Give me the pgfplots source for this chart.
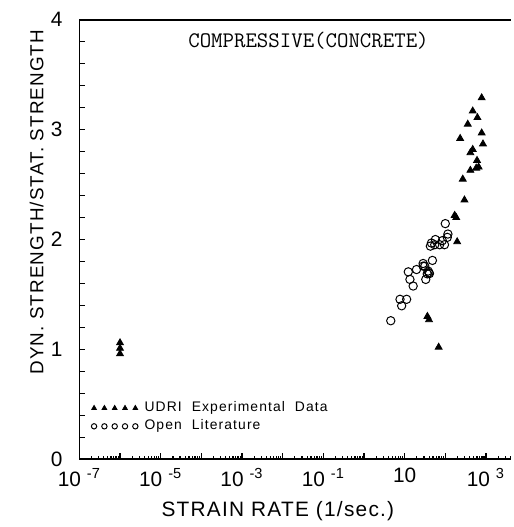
\documentclass[border=0pt]{standalone}
\usepackage{fontspec}
\setmainfont{Liberation Sans}
\newfontfamily\labfont[LetterSpace=6]{Liberation Sans}
\newfontfamily\legfont[LetterSpace=8,WordSpace=2]{Liberation Sans}
\usepackage{pgfplots}
\usepackage{pgfplotstable}
\pgfplotsset{compat=1.18}
\newcommand{\ex}[1]{10\hspace{3pt}\textsuperscript{#1}}

\pgfplotstableread{
x y
1e-6 1.06
1e-6 1.01
1e-6 0.96
785 3.29
473 3.17
617 3.11
357 3.05
785 2.97
232 2.92
845 2.87
473 2.82
414 2.79
603 2.72
661 2.66
575 2.65
414 2.63
269 2.55
296 2.36
170 2.22
186 2.20
196 1.98
36.3 1.30
39.8 1.27
68.7 1.02
}\udri

\pgfplotstableread{
x y
100 2.145
116 2.05
112 2.02
84.5 1.99
57 2.00
45.6 1.968
43 1.94
72.6 1.953
95.5 1.953
55 1.953
48.2 1.81
28.5 1.782
28.5 1.758
37.8 1.713
39.8 1.698
40.7 1.69
33.1 1.637
31.3 1.758
36 1.688
19.6 1.727
12.3 1.706
13.5 1.637
16.2 1.577
7.7 1.456
11.2 1.456
8.45 1.397
4.56 1.261
}\openlit

\begin{document}
\begin{tikzpicture}
\begin{axis}[
  scale only axis, width=217.5pt, height=221.5pt,
  xmode=log, log basis x=10,
  xmin=1e-7, xmax=4100, ymin=0, ymax=4,
  axis lines=left, axis line style={-, line width=0.8pt},
  tick align=inside, tick style={black, line width=0.6pt},
  major tick length=3pt, minor tick length=1.6pt,
  xtick={1e-7,1e-6,1e-5,1e-4,1e-3,1e-2,1e-1,1,10,100,1000},
  xticklabels={\ex{-7},,\ex{-5},,\ex{-3},,\ex{-1},,10,,\ex{3}},
  minor xtick={2e-7,3e-7,4e-7,5e-7,6e-7,7e-7,8e-7,9e-7,
    2e-6,3e-6,4e-6,5e-6,6e-6,7e-6,8e-6,9e-6,
    2e-5,3e-5,4e-5,5e-5,6e-5,7e-5,8e-5,9e-5,
    2e-4,3e-4,4e-4,5e-4,6e-4,7e-4,8e-4,9e-4,
    2e-3,3e-3,4e-3,5e-3,6e-3,7e-3,8e-3,9e-3,
    2e-2,3e-2,4e-2,5e-2,6e-2,7e-2,8e-2,9e-2,
    0.2,0.3,0.4,0.5,0.6,0.7,0.8,0.9,
    2,3,4,5,6,7,8,9,
    20,30,40,50,60,70,80,90,
    200,300,400,500,600,700,800,900,
    2000,3000,4000},
  ytick={0,0.2,0.4,0.6,0.8,1,1.2,1.4,1.6,1.8,2,2.2,2.4,2.6,2.8,3,3.2,3.4,3.6,3.8,4},
  yticklabels={0,,,,,1,,,,,2,,,,,3,,,,,4},
  /pgf/number format/assume math mode=true,
  ticklabel style={font=\fontsize{10.5}{12}\selectfont},
  yticklabel style={xshift=-5pt},
  xticklabel style={yshift=-1pt},
  xlabel={STRAIN RATE (1/sec.)},
  xlabel style={font=\labfont\fontsize{10.5}{12}\selectfont, at={(rel axis cs:0.46,-0.117)}, anchor=center},
  ylabel={DYN. STRENGTH/STAT. STRENGTH},
  ylabel style={font=\labfont\fontsize{9.5}{11}\selectfont, at={(rel axis cs:-0.099,0.585)}, anchor=center},
  clip=false,
  legend image code/.code={\draw[#1, mark size=1.35pt] plot[only marks] coordinates {(0pt,0pt)(5.2pt,0pt)(10.4pt,0pt)(15.6pt,0pt)(20.8pt,0pt)};},
  legend style={at={(rel axis cs:0.027,0.138)}, anchor=north west, draw=none, fill=none,
    inner sep=0pt, row sep=0pt, column sep=2pt, nodes={inner sep=1.3pt, anchor=west},
    font=\legfont\fontsize{7}{8}\selectfont},
  legend cell align=left,
]
\addplot[only marks, mark=triangle*, mark size=2pt, black] table[x=x,y=y] {\udri};
\addlegendentry{UDRI Experimental Data}
\addplot[only marks, mark=o, mark size=2.1pt, black, line width=0.5pt] table[x=x,y=y] {\openlit};
\addlegendentry{Open Literature}
\draw[line width=0.8pt] (rel axis cs:0,1) -- (rel axis cs:1,1);
\node[font=\ttfamily\fontsize{11.2}{13}\selectfont] at (rel axis cs:0.531,0.953) {COMPRESSIVE(CONCRETE)};
\coordinate (bl) at (rel axis cs:0,0);
\coordinate (tr) at (rel axis cs:1,1);
\end{axis}
\path ([shift={(-40pt,-32pt)}]bl) rectangle ([shift={(1.5pt,10pt)}]tr);
\end{tikzpicture}
\end{document}
